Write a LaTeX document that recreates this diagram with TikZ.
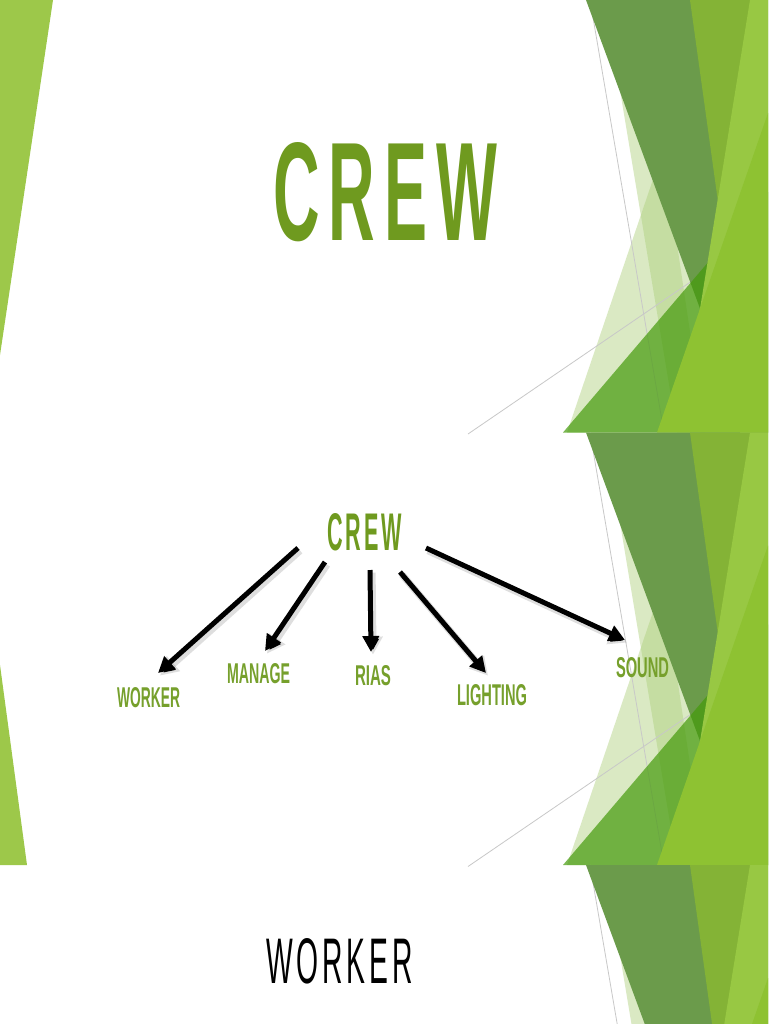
\documentclass[tikz,border=0pt]{standalone}
\usepackage{fontspec}
\setmainfont{Liberation Sans}
\newfontfamily\spacedfont[LetterSpace=14]{Liberation Sans}
\usetikzlibrary{arrows.meta}
\definecolor{leftgreen}{HTML}{9DC84A}
\definecolor{palegreen}{HTML}{ADD07C}
\definecolor{darkband}{HTML}{6B9B4B}
\definecolor{midgreen}{HTML}{449A0A}
\definecolor{oliveband}{HTML}{84B336}
\definecolor{lightband}{HTML}{98C843}
\definecolor{yellowgreen}{HTML}{8EC232}
\definecolor{titlegreen}{HTML}{6F9A1F}
\definecolor{labelgreen}{HTML}{76A02C}
\definecolor{guidegrey}{HTML}{C8C8C8}
\newcommand\facetdeco{%
  \fill[palefill] (605,0) -- (700,0) -- (700,432.5) -- (677,432.5) -- cycle;
  \fill[palefill] (663,150) -- (705,432.5) -- (567,432.5) -- cycle;
  \draw[guideline] (590,0) -- (664,432.5);
  \draw[guideline] (468,434) -- (768,229);
  \fill[darkband] (586,0) -- (740,0) -- (705,322) -- cycle;
  \fill[midgreen, fill opacity=0.7] (563,432.5) -- (768,192) -- (768,432.5) -- cycle;
  \fill[oliveband] (690,0) -- (768,0) -- (768,432.5) -- (750,432.5) -- cycle;
  \fill[lightband] (750,0) -- (768,0) -- (768,432.5) -- (680,432.5) -- cycle;
  \fill[yellowgreen] (657,432.5) -- (768,113) -- (768,432.5) -- cycle;
}
\newcommand\spaced[1]{{\spacedfont #1}}
\begin{document}
\begin{tikzpicture}[x=0.5pt,y=-0.5pt,
  palefill/.style={fill=palegreen, fill opacity=0.45},
  guideline/.style={draw=guidegrey, line width=0.4pt},
  word/.style={anchor=north west, inner sep=0pt, outer sep=0pt},
  crewarrow/.style={draw=black, line width=2.5pt, -{Triangle[length=8pt,width=8pt]}},
  arrowshadow/.style={draw=black, draw opacity=0.13, line width=3.6pt, -{Triangle[length=9pt,width=9.5pt]},
    transform canvas={shift={(1pt,-1.3pt)}}}]
\clip (0,0) rectangle (768,1024);
\fill[white] (0,0) rectangle (768,1024);
% left accents
\fill[leftgreen] (0,0) -- (53,0) -- (0,355) -- cycle;
\fill[leftgreen] (0,665) -- (27,865) -- (0,865) -- cycle;
% right facets of the three slides
\begin{scope}\facetdeco\end{scope}
\begin{scope}[shift={(0,432.5)}]\facetdeco\end{scope}
\begin{scope}[shift={(0,865)}]\facetdeco\end{scope}
% slide 1
\node[word, text=titlegreen] (title) at (273,142) {\resizebox{112pt}{49pt}{\bfseries\spaced{CREW}}};
% slide 2
\node[word, text=titlegreen] (crew) at (327,513) {\resizebox{37.5pt}{18.5pt}{\bfseries\spaced{CREW}}};
\node[word, text=labelgreen] (worker) at (117,687) {\resizebox{31.5pt}{10pt}{\bfseries WORKER}};
\node[word, text=labelgreen] (manage) at (227,663) {\resizebox{31.5pt}{10pt}{\bfseries MANAGE}};
\node[word, text=labelgreen] (rias) at (355,665) {\resizebox{18pt}{10pt}{\bfseries RIAS}};
\node[word, text=labelgreen] (lighting) at (457,684) {\resizebox{35pt}{10.5pt}{\bfseries LIGHTING}};
\node[word, text=labelgreen] (sound) at (616,657) {\resizebox{26.5pt}{10pt}{\bfseries SOUND}};
\coordinate (s1) at (298,548); \coordinate (t1) at (158,673);
\coordinate (s2) at (325,562); \coordinate (t2) at (265,651);
\coordinate (s3) at (370,570); \coordinate (t3) at (371,652);
\coordinate (s4) at (400,572); \coordinate (t4) at (486,673);
\coordinate (s5) at (426,548); \coordinate (t5) at (625,640);
\foreach \i in {1,...,5}{\draw[arrowshadow] (s\i) -- (t\i);}
\foreach \i in {1,...,5}{\draw[crewarrow] (s\i) -- (t\i);}
% slide 3
\node[word, text=black] (worker3) at (266,938) {\resizebox{73.5pt}{22.5pt}{\spaced{WORKER}}};
\end{tikzpicture}
\end{document}
